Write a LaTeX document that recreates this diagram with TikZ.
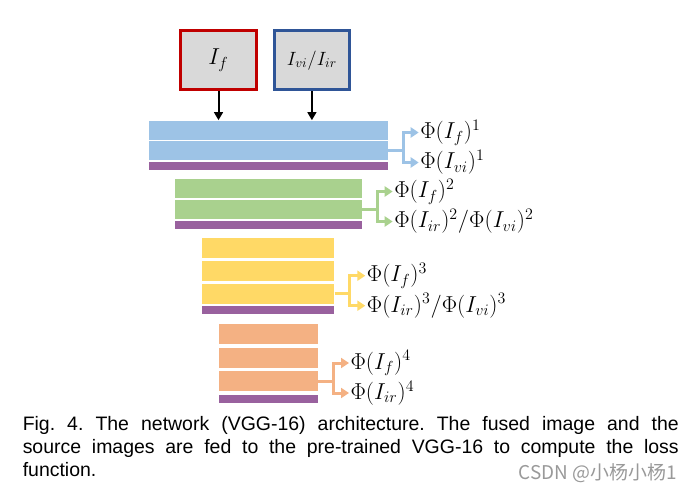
\documentclass[tikz,border=0pt]{standalone}
\usepackage[no-math]{fontspec}
\newfontfamily\capfont{Liberation Sans}
\newfontfamily\cjkfont{Noto Sans CJK SC}
\usetikzlibrary{arrows.meta}

\definecolor{lyrblue}{RGB}{157,195,230}
\definecolor{lyrgreen}{RGB}{169,209,142}
\definecolor{lyryellow}{RGB}{255,217,102}
\definecolor{lyrorange}{RGB}{244,177,131}
\definecolor{lyrpool}{RGB}{153,97,158}
\definecolor{boxred}{RGB}{192,0,0}
\definecolor{boxblue}{RGB}{47,85,151}
\definecolor{boxgray}{RGB}{217,217,217}

\tikzset{
  conv/.style={inner sep=0pt, minimum height=14.25pt},
  pool/.style={fill=lyrpool, inner sep=0pt, minimum height=6pt},
  inbox/.style={fill=boxgray, line width=2.25pt, minimum width=56.5pt, minimum height=44pt, inner sep=0pt, font=\fontsize{14.5}{16}\selectfont},
  feat/.style={anchor=west, inner sep=1pt, font=\fontsize{17.5}{20}\selectfont},
  branch/.style={line width=2.25pt, -{Triangle[width=7.5pt,length=6pt]}},
  feed/.style={line width=1.5pt, -{Triangle[width=6.5pt,length=6pt]}},
}

\begin{document}
\begin{tikzpicture}[x=0.75pt,y=0.75pt,yscale=-1,xscale=1]
\useasboundingbox (0,0) rectangle (692,492);

%Shape: Input boxes
\node [inbox, draw=boxred, font=\fontsize{17}{20}\selectfont] (ifuse) at (218.5,60.2) {$I_f$};
\node [inbox, draw=boxblue] (isrc) at (311.9,60.2) {$I_{vi}/I_{ir}$};

%Shape: Block 1
\node [conv, fill=lyrblue, minimum width=179pt] (c11) at (268.4,130) {};
\node [conv, fill=lyrblue, minimum width=179pt] (c12) at (268.4,150.5) {};
\node [pool, minimum width=179pt] (p1) at (268.4,166) {};
%Shape: Block 2
\node [conv, fill=lyrgreen, minimum width=140pt] (c21) at (268.4,188.8) {};
\node [conv, fill=lyrgreen, minimum width=140pt] (c22) at (268.4,209.5) {};
\node [pool, minimum width=140pt] (p2) at (268.4,225) {};
%Shape: Block 3
\node [conv, fill=lyryellow, minimum width=99pt, minimum height=15.25pt] (c31) at (268.4,248.2) {};
\node [conv, fill=lyryellow, minimum width=99pt, minimum height=15.25pt] (c32) at (268.4,271.3) {};
\node [conv, fill=lyryellow, minimum width=99pt, minimum height=15.25pt] (c33) at (268.4,293.7) {};
\node [pool, minimum width=99pt] (p3) at (268.4,310) {};
%Shape: Block 4
\node [conv, fill=lyrorange, minimum width=74.25pt, minimum height=15pt] (c41) at (268.4,334.2) {};
\node [conv, fill=lyrorange, minimum width=74.25pt, minimum height=15pt] (c42) at (268.4,358.3) {};
\node [conv, fill=lyrorange, minimum width=74.25pt, minimum height=15pt] (c43) at (268.4,381) {};
\node [pool, minimum width=74.25pt] (p4) at (268.4,398.8) {};

% Text Node
\node [feat] (f1a) at (418.7,132.5) {$\Phi(I_f)^1$};
\node [feat] (f1b) at (418.7,162.5) {$\Phi(I_{vi})^1$};
\node [feat] (f2a) at (392.7,191.5) {$\Phi(I_f)^2$};
\node [feat] (f2b) at (392.7,221.5) {$\Phi(I_{ir})^2/\Phi(I_{vi})^2$};
\node [feat] (f3a) at (365.3,275.7) {$\Phi(I_f)^3$};
\node [feat] (f3b) at (365.3,305.7) {$\Phi(I_{ir})^3/\Phi(I_{vi})^3$};
\node [feat] (f4a) at (349,363) {$\Phi(I_f)^4$};
\node [feat] (f4b) at (349,393) {$\Phi(I_{ir})^4$};

%Straight Lines: inputs
\draw [feed] (ifuse.south) -- (ifuse.south |- c11.north);
\draw [feed] (isrc.south) -- (isrc.south |- c11.north);

%Straight Lines: feature taps
\draw [branch, lyrblue] (c12.east) -- ++(15,0) |- (f1a.west);
\draw [branch, lyrblue] (c12.east) -- ++(15,0) |- (f1b.west);
\draw [branch, lyrgreen] (c22.east) -- ++(15,0) |- (f2a.west);
\draw [branch, lyrgreen] (c22.east) -- ++(15,0) |- (f2b.west);
\draw [branch, lyryellow] (c33.east) -- ++(15,0) |- (f3a.west);
\draw [branch, lyryellow] (c33.east) -- ++(15,0) |- (f3b.west);
\draw [branch, lyrorange] (c43.east) -- ++(15,0) |- (f4a.west);
\draw [branch, lyrorange] (c43.east) -- ++(15,0) |- (f4b.west);

% Text Node
\node [anchor=north west, inner sep=0pt, text width=492pt, align=justify, font=\capfont\frenchspacing\fontsize{14.6}{17.25}\selectfont] (cap) at (22.5,416) {Fig. 4. The network (VGG-16) architecture. The fused image and the\linebreak source images are fed to the pre-trained VGG-16 to compute the loss\linebreak function.};
% Text Node
\node [anchor=base east, inner sep=0pt, text=black!40, font=\cjkfont\fontsize{14.2}{16}\selectfont] (mark) at (677,479) {CSDN @小杨小杨1};

\end{tikzpicture}
\end{document}
